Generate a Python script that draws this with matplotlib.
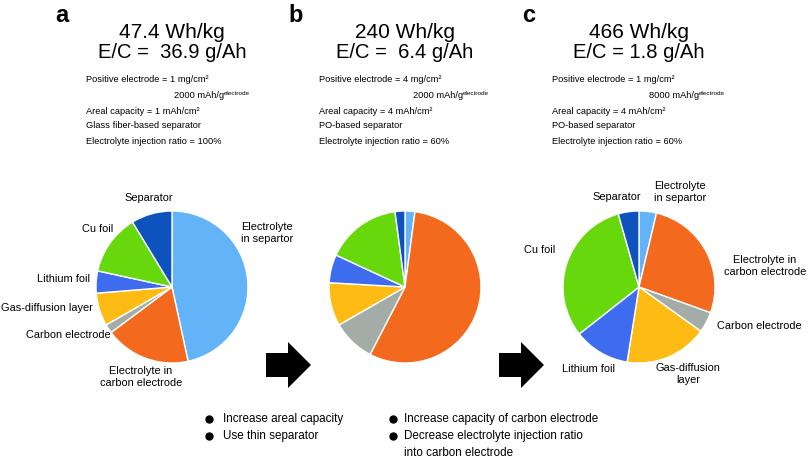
import matplotlib.pyplot as plt
from matplotlib.patches import FancyArrow

plt.rcParams['font.family'] = ['Liberation Sans', 'DejaVu Sans']

# mass share (%) of each component, clockwise from 12 o'clock
components = ['Electrolyte in separtor', 'Electrolyte in carbon electrode',
              'Carbon electrode', 'Gas-diffusion layer', 'Lithium foil',
              'Cu foil', 'Separator']
colors = ['#62B3F7', '#F36A1F', '#A4ACA8', '#FDBB14', '#3D6CEE',
          '#66D80C', '#0E52BE']
share_a = [46.6, 18.2, 1.9, 7.0, 4.7, 12.9, 8.7]
share_b = [2.1, 55.5, 9.1, 9.2, 6.0, 16.0, 2.1]
share_c = [3.7, 26.8, 4.4, 17.6, 11.9, 31.2, 4.4]

panels = ['a', 'b', 'c']
energy = ['47.4 Wh/kg', '240 Wh/kg', '466 Wh/kg']
ec = ['E/C =  36.9 g/Ah', 'E/C =  6.4 g/Ah', 'E/C = 1.8 g/Ah']
loading = ['1', '4', '1']
capacity = ['2000', '2000', '8000']
areal = ['1', '4', '4']
separator = ['Glass fiber-based separator', 'PO-based separator', 'PO-based separator']
injection = ['100%', '60%', '60%']

W, H = 810, 462
fig = plt.figure(figsize=(W / 100, H / 100), dpi=100)
ax = fig.add_axes([0, 0, 1, 1])


def Y(y):
    return H - y


centers = [172, 405, 639]
for i, vals in enumerate([share_a, share_b, share_c]):
    cx = centers[i]
    ax.pie(vals, colors=colors, startangle=90, counterclock=False,
           center=(cx, Y(287)), radius=76,
           wedgeprops=dict(edgecolor='white', linewidth=1))
    ax.text(cx - 117, Y(16), panels[i], fontsize=17, fontweight='bold',
            ha='left', va='center')
    ax.text(cx, Y(32), energy[i], fontsize=15, ha='center', va='center')
    ax.text(cx, Y(53), ec[i], fontsize=14.5, ha='center', va='center')

# info blocks
fs = 6.7
info_x = [86, 319, 552]
cap_x = [174, 413, 649]
for i in range(3):
    x = info_x[i]
    ax.text(x, Y(80), 'Positive electrode = %s mg/cm\u00b2' % loading[i],
            fontsize=fs, va='center')
    t = ax.text(cap_x[i], Y(96), '%s mAh/g' % capacity[i],
                fontsize=fs, va='center')
    ax.annotate('electrode', xy=(1.0, 0.75), xycoords=t, fontsize=4.6,
                ha='left', va='center')
    ax.text(x, Y(111), 'Areal capacity = %s mAh/cm\u00b2' % areal[i],
            fontsize=fs, va='center')
    ax.text(x, Y(126), separator[i], fontsize=fs, va='center')
    ax.text(x, Y(141), 'Electrolyte injection ratio = %s' % injection[i],
            fontsize=fs, va='center')

# pie labels
lf = 7.9
ax.text(149, Y(198), 'Separator', fontsize=lf, ha='center', va='center')
ax.text(113, Y(229), 'Cu foil', fontsize=lf, ha='right', va='center')
ax.text(90, Y(279), 'Lithium foil', fontsize=lf, ha='right', va='center')
ax.text(93, Y(308), 'Gas-diffusion layer', fontsize=lf, ha='right', va='center')
ax.text(111, Y(335), 'Carbon electrode', fontsize=lf, ha='right', va='center')
ax.text(141, Y(377), 'Electrolyte in\ncarbon electrode', fontsize=lf,
        ha='center', va='center', linespacing=1.25)
ax.text(241, Y(233), 'Electrolyte\nin separtor', fontsize=lf,
        ha='left', va='center', linespacing=1.25)

ax.text(617, Y(197), 'Separator', fontsize=lf, ha='center', va='center')
ax.text(680, Y(192), 'Electrolyte\nin separtor', fontsize=lf,
        ha='center', va='center', linespacing=1.25)
ax.text(555, Y(250), 'Cu foil', fontsize=lf, ha='right', va='center')
ax.text(765, Y(266), 'Electrolyte in\ncarbon electrode', fontsize=lf,
        ha='center', va='center', linespacing=1.25)
ax.text(717, Y(326), 'Carbon electrode', fontsize=lf, ha='left', va='center')
ax.text(588, Y(369), 'Lithium foil', fontsize=lf, ha='center', va='center')
ax.text(688, Y(374), 'Gas-diffusion\nlayer', fontsize=lf,
        ha='center', va='center', linespacing=1.25)

# block arrows
for x0 in [266, 499]:
    ax.add_patch(FancyArrow(x0, Y(365), 45, 0, width=24, head_width=46,
                            head_length=23, length_includes_head=True,
                            color='black', linewidth=0))

# bottom notes
bf = 8.4
ax.plot([209, 209], [Y(419), Y(436)], 'o', color='black', ms=5)
ax.text(223, Y(419), 'Increase areal capacity', fontsize=bf, va='center')
ax.text(223, Y(436), 'Use thin separator', fontsize=bf, va='center')
ax.plot([393, 393], [Y(419), Y(436)], 'o', color='black', ms=5)
ax.text(404, Y(419), 'Increase capacity of carbon electrode', fontsize=bf, va='center')
ax.text(404, Y(436), 'Decrease electrolyte injection ratio', fontsize=bf, va='center')
ax.text(404, Y(453), 'into carbon electrode', fontsize=bf, va='center')

ax.set_xlim(0, W)
ax.set_ylim(0, H)
ax.set_aspect('auto')
ax.axis('off')

fig.savefig('out.png', dpi=100)
